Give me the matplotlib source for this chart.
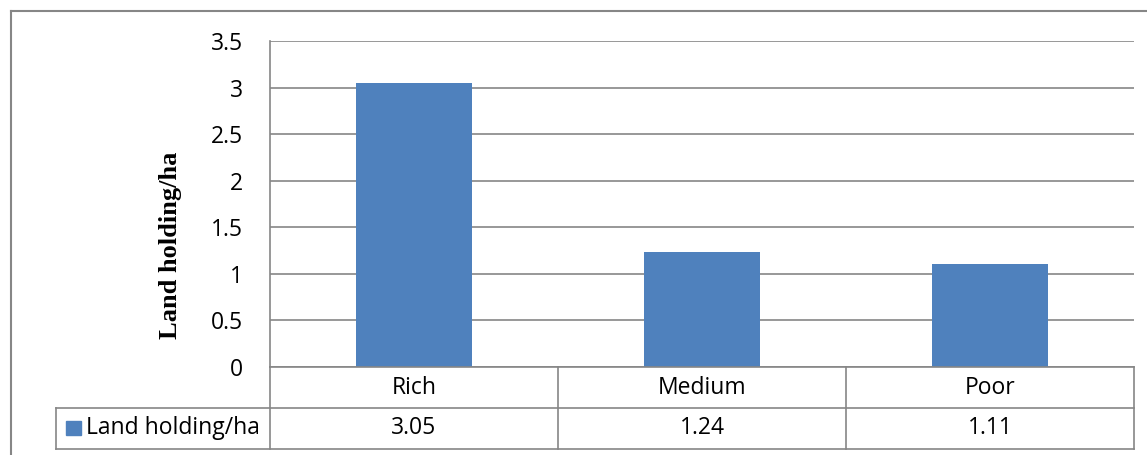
import matplotlib.pyplot as plt
from matplotlib.patches import Rectangle
from matplotlib.lines import Line2D
from matplotlib.transforms import blended_transform_factory

categories = ["Rich", "Medium", "Poor"]
land_holding = [3.05, 1.24, 1.11]
series_name = "Land holding/ha"
yticks = [0, 0.5, 1, 1.5, 2, 2.5, 3, 3.5]
ytick_labels = ["0", "0.5", "1", "1.5", "2", "2.5", "3", "3.5"]

bar_color = "#4F81BD"
grid_color = "#868686"
font = "Open Sans"
fs = 16.5

W, H = 1147, 455
fig = plt.figure(figsize=(W / 100, H / 100), dpi=100)

# plot area in pixel terms
left, right, top, bottom = 270, 1134, 41, 367
ax = fig.add_axes([left / W, 1 - bottom / H, (right - left) / W, (bottom - top) / H])

x = list(range(len(categories)))
ax.bar(x, land_holding, width=0.4, color=bar_color, zorder=3)
ax.set_xlim(-0.5, len(categories) - 0.5)
ax.set_ylim(0, 3.5)
ax.set_yticks(yticks)
ax.set_yticklabels(ytick_labels, fontsize=fs, family=font)
ax.set_xticks([])
ax.tick_params(axis="y", length=0, pad=19.5)
ax.yaxis.grid(True, color=grid_color, linewidth=1.2)
for s in ["top", "right", "bottom"]:
    ax.spines[s].set_visible(False)
ax.spines["left"].set_color(grid_color)
ax.spines["left"].set_linewidth(1.2)

# data table under the axes
def fx(px):
    return px / W

def fy(py):
    return 1 - py / H

row1, row2 = 408, 449
lab_left = 56
lw = 1.2
lines = [
    ((left, right), (bottom, bottom)),
    ((lab_left, right), (row1, row1)),
    ((lab_left, right), (row2, row2)),
    ((lab_left, lab_left), (row1, row2)),
    ((right, right), (bottom, row2)),
    ((left, left), (bottom, row2)),
]
step = (right - left) / len(categories)
for i in range(1, len(categories)):
    xp = left + i * step
    lines.append(((xp, xp), (bottom, row2)))
for (xs, ys) in lines:
    fig.add_artist(Line2D([fx(v) for v in xs], [fy(v) for v in ys],
                          color=grid_color, linewidth=lw))

trans = blended_transform_factory(ax.transData, fig.transFigure)
for i, (cat, val) in enumerate(zip(categories, land_holding)):
    fig.text(i, fy((bottom + row1) / 2), cat, transform=trans,
             ha="center", va="center", fontsize=fs, family=font)
    fig.text(i, fy((row1 + row2) / 2), f"{val:.2f}", transform=trans,
             ha="center", va="center", fontsize=fs, family=font)

# legend key inside the table
fig.add_artist(Rectangle((fx(66), fy(435)), fx(15), 14 / H, color=bar_color))
fig.text(fx(86), fy((row1 + row2) / 2), series_name, ha="left", va="center",
         fontsize=fs, family=font)

fig.text(fx(170), fy((top + row2) / 2), series_name, rotation=90,
         ha="center", va="center", fontsize=19, fontweight="bold",
         family="Liberation Serif")

# chart border
fig.add_artist(Line2D([fx(11), fx(11)], [fy(11), 0], color=grid_color, linewidth=1.5))
fig.add_artist(Line2D([fx(11), 1], [fy(11), fy(11)], color=grid_color, linewidth=1.5))

fig.savefig("out.png", dpi=100)
